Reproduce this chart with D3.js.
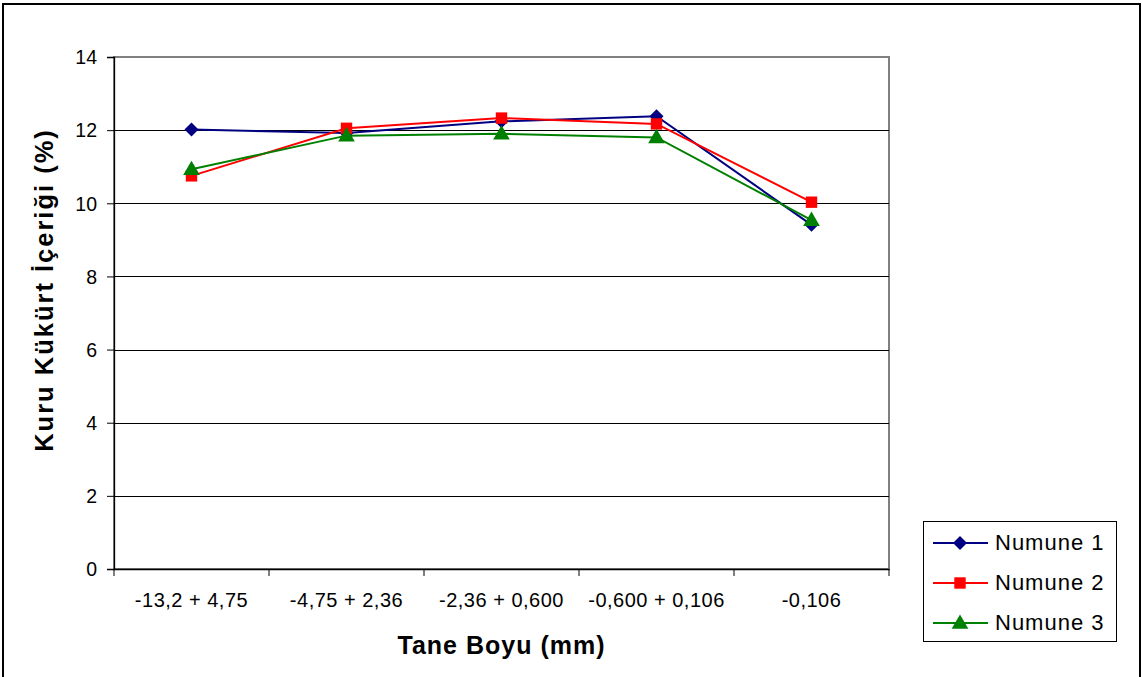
<!DOCTYPE html>
<html>
<head>
<meta charset="utf-8">
<script src="https://cdn.jsdelivr.net/npm/d3@7/dist/d3.min.js"></script>
<style>
  html, body { margin: 0; padding: 0; background: #fff; }
  svg { display: block; font-family: "Liberation Sans", Arial, sans-serif; }
</style>
</head>
<body>
<svg id="chart" width="1142" height="677"></svg>
<script>
// Particle size fractions (mm)
const categories = ["-13,2 + 4,75", "-4,75 + 2,36", "-2,36 + 0,600", "-0,600 + 0,106", "-0,106"];
// Dry sulphur content (%) per sample
const numune1 = [12.02, 11.92, 12.24, 12.38, 9.41];
const numune2 = [10.75, 12.05, 12.33, 12.17, 10.03];
const numune3 = [10.93, 11.85, 11.90, 11.80, 9.54];
const seriesNames = ["Numune 1", "Numune 2", "Numune 3"];
const yTicks = [0, 2, 4, 6, 8, 10, 12, 14];

const series = [
  { name: seriesNames[0], values: numune1, color: "#000080", shape: "diamond" },
  { name: seriesNames[1], values: numune2, color: "#FF0000", shape: "square" },
  { name: seriesNames[2], values: numune3, color: "#008000", shape: "triangle" }
];

const FONT = "'Liberation Sans', Arial, sans-serif";
const svg = d3.select("#chart");
const W = 1142, H = 677;
const plot = { left: 114, top: 57, right: 889, bottom: 569 };

// outer frame
svg.append("rect").attr("x", 3).attr("y", 4).attr("width", W - 5).attr("height", H + 4)
  .attr("fill", "#fff").attr("stroke", "#000").attr("stroke-width", 2);

const x = d3.scaleBand().domain(categories).range([plot.left, plot.right]);
const y = d3.scaleLinear().domain([0, 14]).range([plot.bottom, plot.top]);

// plot border (top/right gray)
svg.append("rect").attr("x", plot.left).attr("y", plot.top)
  .attr("width", plot.right - plot.left).attr("height", plot.bottom - plot.top)
  .attr("fill", "none").attr("stroke", "#808080").attr("stroke-width", 2);

// horizontal gridlines
svg.append("g").selectAll("line").data(yTicks.filter(d => d > 0 && d < 14)).join("line")
  .attr("x1", plot.left).attr("x2", plot.right)
  .attr("y1", d => Math.round(y(d)) + 0.5).attr("y2", d => Math.round(y(d)) + 0.5)
  .attr("stroke", "#000").attr("stroke-width", 1);

// y axis
const yAxis = d3.axisLeft(y).tickValues(yTicks).tickSize(7).tickPadding(10).tickFormat(d3.format("d"));
const gy = svg.append("g").attr("transform", `translate(${plot.left},0)`).call(yAxis);
gy.select(".domain").attr("stroke", "#000").attr("stroke-width", 1.3);
gy.selectAll(".tick line").attr("stroke", "#000");
gy.selectAll("text").attr("font-size", 19.5).attr("fill", "#000").attr("font-family", FONT)
  .attr("dy", "0.35em");

// x axis
const xAxis = d3.axisBottom(x).tickSize(0).tickPadding(0);
const gx = svg.append("g").attr("transform", `translate(0,${plot.bottom})`).call(xAxis);
gx.select(".domain").attr("stroke", "#000").attr("stroke-width", 1.3);
gx.selectAll("text").attr("font-size", 20).attr("fill", "#000").attr("font-family", FONT)
  .attr("letter-spacing", 0.5).attr("dy", 0).attr("y", 38);
// tick marks at category boundaries
const bounds = categories.map(c => x(c)).concat([x(categories[categories.length - 1]) + x.bandwidth()]);
gx.selectAll(".bound").data(bounds).join("line").attr("class", "bound")
  .attr("x1", d => d).attr("x2", d => d).attr("y1", 0).attr("y2", 7)
  .attr("stroke", "#000").attr("stroke-width", 1);

const cx = c => x(c) + x.bandwidth() / 2;

const symbolPath = (shape) => {
  if (shape === "diamond") return "M0,-7L7,0L0,7L-7,0Z";
  if (shape === "square") return d3.symbol().type(d3.symbolSquare).size(130)();
  return d3.symbol().type(d3.symbolTriangle).size(120)();
};

const line = d3.line().x((d, i) => cx(categories[i])).y(d => y(d));

series.forEach(s => {
  svg.append("path").datum(s.values).attr("d", line)
    .attr("fill", "none").attr("stroke", s.color).attr("stroke-width", 2);
});
series.forEach(s => {
  svg.append("g").selectAll("path").data(s.values).join("path")
    .attr("d", symbolPath(s.shape))
    .attr("transform", (d, i) => `translate(${cx(categories[i])},${y(d) + (s.shape === "triangle" ? 1 : 0)})`)
    .attr("fill", s.color);
});

// axis titles
svg.append("text").attr("x", (plot.left + plot.right) / 2).attr("y", 654)
  .attr("text-anchor", "middle").attr("font-size", 25).attr("font-weight", "bold")
  .attr("letter-spacing", 1).attr("font-family", FONT)
  .text("Tane Boyu (mm)");
svg.append("text").attr("transform", `translate(53,290) rotate(-90)`)
  .attr("text-anchor", "middle").attr("font-size", 25.5).attr("font-weight", "bold")
  .attr("letter-spacing", 2).attr("font-family", FONT)
  .text("Kuru Kükürt İçeriği (%)");

// legend
const lg = svg.append("g");
lg.append("rect").attr("x", 923.5).attr("y", 521.5).attr("width", 193).attr("height", 120)
  .attr("fill", "#fff").attr("stroke", "#000").attr("stroke-width", 1);
series.forEach((s, i) => {
  const ly = 543 + i * 40;
  lg.append("line").attr("x1", 933).attr("x2", 988).attr("y1", ly).attr("y2", ly)
    .attr("stroke", s.color).attr("stroke-width", 2);
  lg.append("path").attr("d", symbolPath(s.shape))
    .attr("transform", `translate(960,${ly + (s.shape === "triangle" ? 1 : 0)})`).attr("fill", s.color);
  lg.append("text").attr("x", 995).attr("y", ly + 7).attr("font-size", 22).attr("fill", "#000")
    .attr("letter-spacing", 1).attr("font-family", FONT)
    .text(s.name);
});
</script>
</body>
</html>
